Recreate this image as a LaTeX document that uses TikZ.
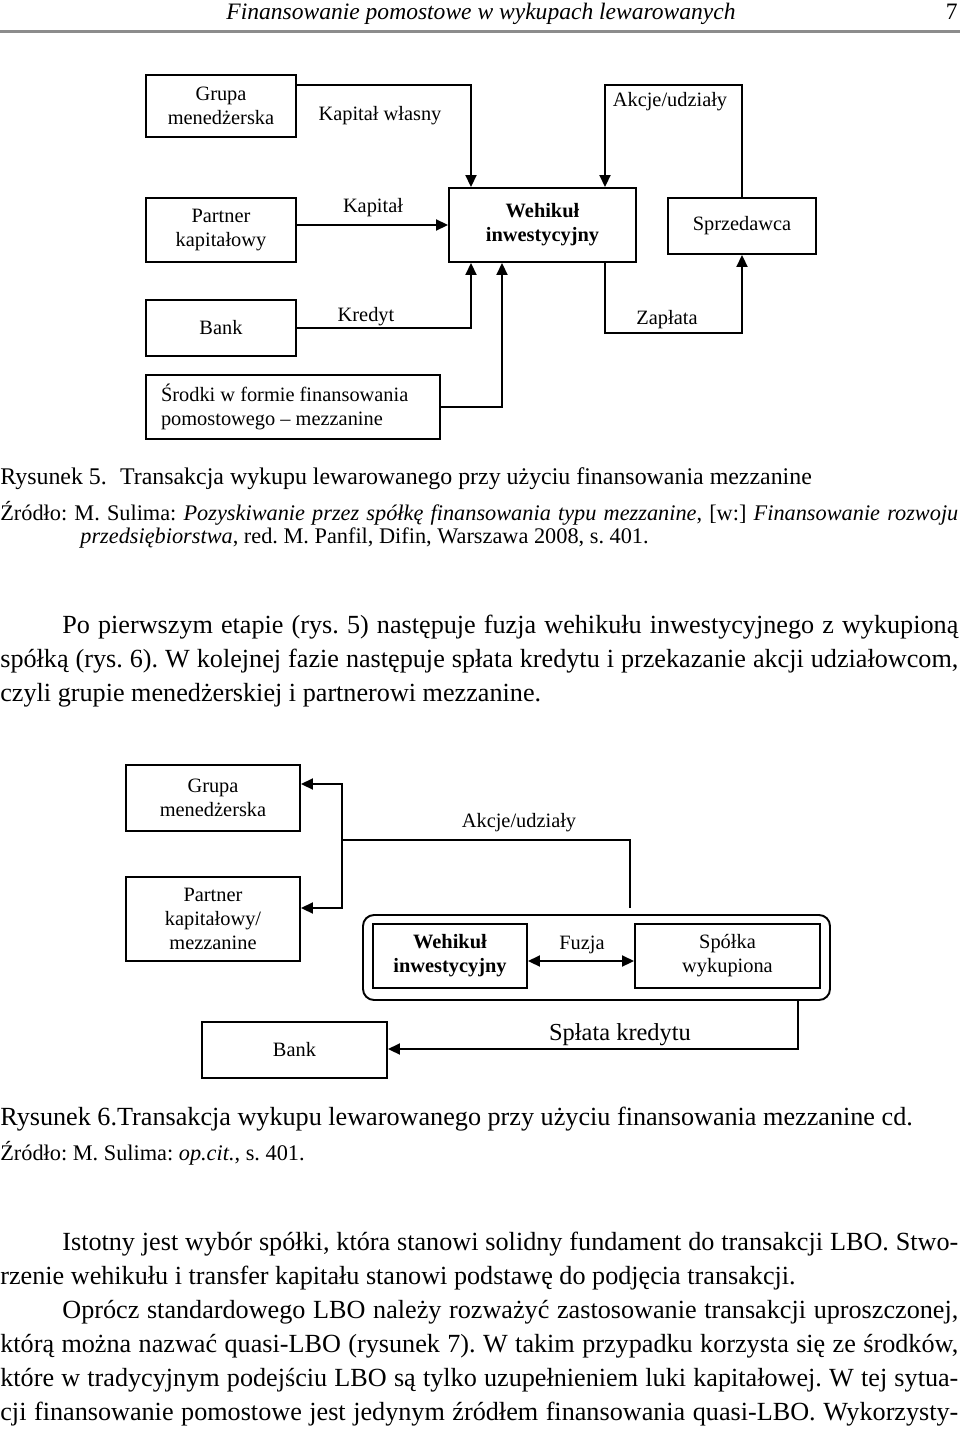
\documentclass[tikz,border=0pt]{standalone}
\usepackage{fontspec}
\setmainfont{Liberation Serif}
\usepackage{tikz}
\usetikzlibrary{arrows.meta, positioning}
\frenchspacing

\newlength{\px}
\setlength{\px}{0.02cm}
\newcommand{\bodyfont}{\fontsize{14.9pt}{19pt}\selectfont}
\newcommand{\capfont}{\fontsize{13.6pt}{17pt}\selectfont}
\newcommand{\srcfont}{\fontsize{12.7pt}{15pt}\selectfont}
\newcommand{\headfont}{\fontsize{13.4pt}{16pt}\selectfont}
\newcommand{\diagfont}{\fontsize{11.6pt}{13.6pt}\selectfont}
\newcommand{\bigdiagfont}{\fontsize{13.9pt}{16pt}\selectfont}

\tikzstyle{box} = [rectangle, draw=black, line width=1.1pt, align=center,
    font=\diagfont, inner sep=0pt]
\tikzstyle{arrow} = [line width=1.1pt, -{Triangle[length=0.24cm, width=0.22cm]}]
\tikzstyle{dblarrow} = [line width=1.1pt,
    {Triangle[length=0.24cm, width=0.22cm]}-{Triangle[length=0.24cm, width=0.22cm]}]
\tikzstyle{link} = [line width=1.1pt]
\tikzstyle{lbl} = [font=\diagfont, inner sep=0pt]
\tikzstyle{txt} = [anchor=base west, inner sep=0pt, font=\bodyfont]

\begin{document}
\begin{tikzpicture}[x=0.02cm, y=-0.02cm]
  \useasboundingbox (0,0) rectangle (960,1433);

  % page head
  \node (head)   [anchor=base, inner sep=0pt, font=\headfont\itshape] at (481,20)
        {Finansowanie pomostowe w wykupach lewarowanych};
  \node (pageno) [anchor=base east, inner sep=0pt, font=\headfont] at (958,20) {7};
  \draw[black!45, line width=0.06cm] (0,32) -- (960,32);

  % rysunek 5
  \node (grupa)      [box, minimum width=150\px, minimum height=62\px] at (221,106)
        {Grupa\\menedżerska};
  \node (partner)    [box, minimum width=150\px, minimum height=64\px] at (221,230)
        {Partner\\kapitałowy};
  \node (bank)       [box, minimum width=150\px, minimum height=56\px] at (221,328)
        {Bank};
  \node (srodki)     [box, minimum width=294\px, minimum height=64\px,
                      text width=264\px, align=flush left] at (293,407)
        {Środki w formie finansowania\\pomostowego – mezzanine};
  \node (wehikul)    [box, minimum width=187\px, minimum height=74\px,
                      font=\diagfont\bfseries] at (542.5,225)
        {Wehikuł\\inwestycyjny};
  \node (sprzedawca) [box, minimum width=148\px, minimum height=56\px] at (742,226)
        {Sprzedawca};

  \draw[arrow] (grupa.east |- 0,85) -| (wehikul.north -| 471,0);
  \node (kwlasny) [lbl] at (380,116) {Kapitał własny};
  \draw[arrow] (partner.east |- wehikul.west) -- (wehikul.west);
  \node (kapital) [lbl] at (373,208) {Kapitał};
  \draw[arrow] (bank.east) -| (wehikul.south -| 471,0);
  \node (kredyt)  [lbl] at (366,317) {Kredyt};
  \draw[arrow] (srodki.east) -| (wehikul.south -| 502,0);
  \draw[arrow] (wehikul.south -| 605,0) |- (sprzedawca.south |- 0,333)
        -- (sprzedawca.south);
  \node (zaplata) [lbl] at (667,320) {Zapłata};
  \draw[arrow] (sprzedawca.north) |- (605,85) -- (wehikul.north -| 605,0);
  \node (akcje)   [lbl] at (670,102) {Akcje/udziały};

  \node (cap5) [txt, font=\capfont] at (0,484)
        {Rysunek 5.\hspace{0.55em}Transakcja wykupu lewarowanego przy użyciu finansowania mezzanine};
  \node (src5a) [txt, font=\srcfont] at (0,520)
        {\makebox[958\px][s]{Źródło: M. Sulima: \textit{Pozyskiwanie przez spółkę finansowania typu mezzanine}, [w:] \textit{Finansowanie rozwoju}}};
  \node (src5b) [txt, font=\srcfont] at (80,543)
        {\textit{przedsiębiorstwa}, red. M. Panfil, Difin, Warszawa 2008, s. 401.};

  \node (p1a) [txt] at (62,633)
        {\makebox[896\px][s]{Po pierwszym etapie (rys. 5) następuje fuzja wehikułu inwestycyjnego z wykupioną}};
  \node (p1b) [txt] at (0,667)
        {\makebox[958\px][s]{spółką (rys. 6). W kolejnej fazie następuje spłata kredytu i przekazanie akcji udziałowcom,}};
  \node (p1c) [txt] at (0,701)
        {czyli grupie menedżerskiej i partnerowi mezzanine.};

  % rysunek 6
  \node (grupa2)   [box, minimum width=174\px, minimum height=66\px] at (213,798)
        {Grupa\\menedżerska};
  \node (partner2) [box, minimum width=174\px, minimum height=84\px] at (213,919)
        {Partner\\kapitałowy/\\mezzanine};
  \node (merge)    [rectangle, draw=black, line width=1.1pt, rounded corners=0.22cm,
                    minimum width=467\px, minimum height=85\px] at (596.5,957.5) {};
  \node (wehikul2) [box, minimum width=154\px, minimum height=64\px,
                    font=\diagfont\bfseries] at (450,956)
        {Wehikuł\\inwestycyjny};
  \node (spolka)   [box, minimum width=185\px, minimum height=64\px] at (727.5,956)
        {Spółka\\wykupiona};
  \node (bank2)    [box, minimum width=185\px, minimum height=56\px] at (294.5,1050)
        {Bank};

  \coordinate (split)   at (342,840);
  \coordinate (handoff) at (630,908);
  \draw[link]  (handoff) |- (split);
  \draw[arrow] (split) |- (grupa2.east |- 0,784);
  \draw[arrow] (split) |- (partner2.east |- 0,908);
  \node (akcje2) [lbl] at (519,823) {Akcje/udziały};
  \draw[dblarrow] (wehikul2.east |- 0,961) -- (spolka.west |- 0,961);
  \node (fuzja)  [lbl] at (582,945) {Fuzja};
  \draw[arrow] (merge.south -| 798,0) |- (bank2.east |- 0,1049);
  \node (splata) [lbl, font=\bigdiagfont] at (620,1035) {Spłata kredytu};

  \node (cap6) [txt] at (0,1125)
        {Rysunek 6.Transakcja wykupu lewarowanego przy użyciu finansowania mezzanine cd.};
  \node (src6) [txt, font=\srcfont] at (0,1160)
        {Źródło: M. Sulima: \textit{op.cit.}, s. 401.};

  \node (p2a) [txt] at (62,1250)
        {\makebox[896\px][s]{Istotny jest wybór spółki, która stanowi solidny fundament do transakcji LBO. Stwo-}};
  \node (p2b) [txt] at (0,1284)
        {rzenie wehikułu i transfer kapitału stanowi podstawę do podjęcia transakcji.};
  \node (p2c) [txt] at (62,1318)
        {\makebox[896\px][s]{Oprócz standardowego LBO należy rozważyć zastosowanie transakcji uproszczonej,}};
  \node (p2d) [txt] at (0,1352)
        {\makebox[958\px][s]{którą można nazwać quasi-LBO (rysunek 7). W takim przypadku korzysta się ze środków,}};
  \node (p2e) [txt] at (0,1386)
        {\makebox[958\px][s]{które w tradycyjnym podejściu LBO są tylko uzupełnieniem luki kapitałowej. W tej sytua-}};
  \node (p2f) [txt] at (0,1420)
        {\makebox[958\px][s]{cji finansowanie pomostowe jest jedynym źródłem finansowania quasi-LBO. Wykorzysty-}};

\end{tikzpicture}
\end{document}
